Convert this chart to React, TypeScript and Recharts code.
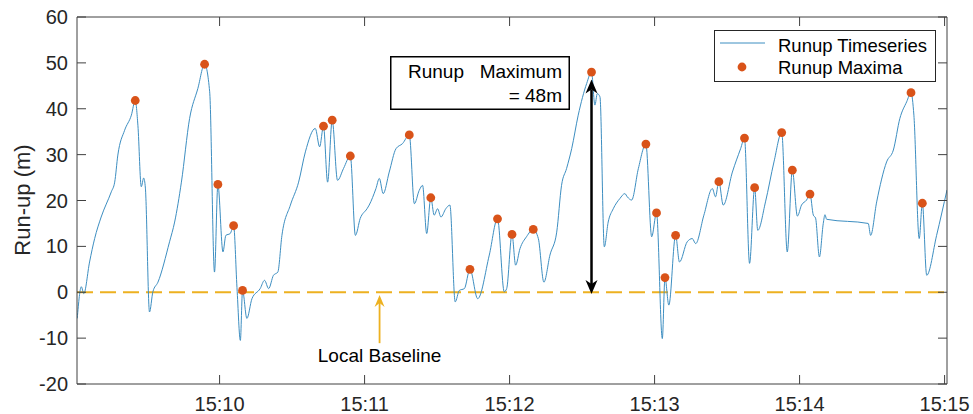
import React from 'react';
import { ComposedChart, Line, Scatter, XAxis, YAxis, ReferenceLine, Legend } from 'recharts';

// time in seconds after 15:09:00
const runupTimes = [
  1.1, 2.8, 3.8, 6.2, 8.3, 11.0, 15.2, 16.6, 17.9, 20.7,
  23.5, 25.1, 26.2, 27.6, 28.6, 29.3, 31.0, 32.4, 34.5, 39.3,
  41.4, 44.2, 47.6, 51.0, 53.8, 55.9, 57.9, 59.3, 61.4, 62.6,
  64.4, 65.8, 67.2, 68.6, 69.5, 71.3, 73.4, 76.8, 78.6, 80.3,
  82.3, 84.1, 85.8, 89.3, 92.7, 95.5, 99.6, 101.4, 103.0, 104.7,
  106.6, 108.8, 111.3, 114.1, 116.2, 118.2, 121.0, 121.9, 124.7, 126.1,
  127.7, 130.2, 133.0, 135.7, 138.5, 140.6, 142.6, 144.0, 145.7, 147.4,
  148.8, 150.2, 151.6, 153.6, 155.3, 157.5, 159.2, 161.3, 163.6, 166.8,
  171.6, 175.0, 177.8, 178.8, 181.0, 182.5, 184.3, 187.0, 189.8, 191.9,
  194.2, 196.7, 199.5, 201.5, 203.6, 205.7, 208.4, 211.9, 213.9, 215.3,
  216.3, 217.4, 219.2, 220.8, 222.9, 225.6, 227.7, 228.7, 230.5, 233.3,
  236.4, 238.8, 240.8, 243.2, 244.3, 245.9, 248.7, 250.3, 253.5, 255.6,
  257.0, 260.4, 263.9, 265.2, 266.6, 268.4, 272.2, 275.6, 277.2, 279.3,
  281.4, 282.7, 285.9, 289.4, 292.6, 294.9, 297.0, 299.1, 300.8, 302.9,
  304.3, 305.7, 306.6, 308.2, 309.8, 310.5, 311.2, 328.4, 329.4, 331.9,
  336.0, 338.8, 341.5, 344.3, 346.1, 347.3, 349.5, 350.8, 352.6, 356.7,
  361.0,
];

const runupValues = [
  -5.7, 1.2, -0.3, 6.6, 11.7, 16.4, 21.9, 24.0, 29.9, 35.3,
  38.6, 41.8, 36.4, 23.0, 24.9, 22.7, -4.3, 0.1, 2.2, 11.0,
  15.3, 24.0, 37.9, 44.4, 49.7, 43.7, 4.4, 23.5, 8.8, 12.4,
  12.8, 14.5, 1.0, -10.5, 0.4, -5.7, -1.4, 0.8, 2.6, 0.8,
  3.7, 4.4, 12.4, 19.0, 24.0, 30.6, 35.7, 31.7, 36.2, 24.0,
  37.5, 24.4, 27.0, 29.7, 12.4, 16.1, 18.2, 19.0, 22.6, 24.8,
  21.5, 26.2, 31.3, 32.4, 34.3, 19.3, 22.2, 23.3, 12.8, 20.6,
  16.8, 18.2, 16.4, 18.2, 19.0, -2.1, 0.4, 0.8, 5.0, -1.4,
  8.1, 16.0, 0.1, 0.8, 12.6, 5.9, 9.5, 12.1, 13.7, 11.7,
  2.2, 8.1, 13.1, 23.3, 27.0, 31.3, 38.6, 45.5, 48.0, 40.8,
  43.3, 42.6, 9.9, 15.3, 18.2, 20.4, 21.5, 20.8, 20.1, 27.0,
  32.3, 12.1, 17.3, -10.1, 3.2, -2.8, 12.4, 6.6, 11.0, 11.7,
  10.6, 16.8, 22.6, 20.8, 24.1, 19.0, 26.2, 31.3, 33.6, 6.3,
  22.8, 13.5, 19.7, 28.4, 34.8, 8.8, 26.6, 16.6, 19.0, 20.1,
  21.4, 16.8, 16.2, 7.7, 15.0, 16.9, 15.9, 15.0, 12.4, 19.7,
  28.4, 31.0, 37.9, 41.5, 43.5, 38.6, 11.7, 19.4, 3.7, 12.4,
  22.3,
];

const maximaTimes = [
  25.1, 53.8, 59.3, 65.8, 69.5, 103.0, 106.6, 114.1, 138.5, 147.4,
  163.6, 175.0, 181.0, 189.8, 213.9, 236.4, 240.8, 244.3, 248.7, 266.6,
  277.2, 281.4, 292.6, 297.0, 304.3, 346.1, 350.8,
];
const maximaValues = [
  41.8, 49.7, 23.5, 14.5, 0.4, 36.2, 37.5, 29.7, 34.3, 20.6,
  5.0, 16.0, 12.6, 13.7, 48.0, 32.3, 17.3, 3.2, 12.4, 24.1,
  33.6, 22.8, 34.8, 26.6, 21.4, 43.5, 19.4,
];

const xTicks = [60, 120, 180, 240, 300, 360];
const xTickLabels = ['15:10', '15:11', '15:12', '15:13', '15:14', '15:15'];
const yTicks = [-20, -10, 0, 10, 20, 30, 40, 50, 60];
const xDomain = [1, 361];
const yDomain = [-20, 60];

const maxArrowTime = 213.9;
const maxArrowRange = [-0.4, 46.4];
const baselineArrowTime = 126.2;
const baselineArrowRange = [-11.1, -0.6];

const runupData = runupTimes.map((t, i) => ({ t, v: runupValues[i] }));
const maximaData = maximaTimes.map((t, i) => ({ t, v: maximaValues[i] }));

const FONT = '"Liberation Sans", Arial, Helvetica, sans-serif';
const LINE_COLOR = '#3D8EC1';
const DOT_COLOR = '#D95319';
const BASE_COLOR = '#EDB120';
const AXIS_COLOR = '#404040';
const TEXT_COLOR = '#262626';

const fmtX = (t: number) => {
  const i = xTicks.indexOf(t);
  return i >= 0 ? xTickLabels[i] : '';
};

const DoubleArrow = (p: any) => {
  const { x1, y1, x2, y2 } = p;
  const x = x1;
  const top = Math.min(y1, y2);
  const bot = Math.max(y1, y2);
  const hw = 6;
  const hl = 14;
  const notch = 10;
  return (
    <g>
      <line x1={x} y1={top + notch} x2={x} y2={bot - notch} stroke="#000" strokeWidth={2.5} />
      <path d={`M${x},${top} L${x - hw},${top + hl} L${x},${top + notch} L${x + hw},${top + hl} Z`} fill="#000" />
      <path d={`M${x},${bot} L${x - hw},${bot - hl} L${x},${bot - notch} L${x + hw},${bot - hl} Z`} fill="#000" />
    </g>
  );
};

const BaselineArrow = (p: any) => {
  const { x1, y1, x2, y2 } = p;
  const x = x1;
  const top = Math.min(y1, y2);
  const bot = Math.max(y1, y2);
  const hw = 5;
  const hl = 12;
  const notch = 8;
  return (
    <g>
      <line x1={x} y1={top + notch} x2={x} y2={bot} stroke={BASE_COLOR} strokeWidth={1.8} />
      <path d={`M${x},${top} L${x - hw},${top + hl} L${x},${top + notch} L${x + hw},${top + hl} Z`} fill={BASE_COLOR} />
      <text x={x} y={bot + 19} textAnchor="middle" fontFamily={FONT} fontSize={19} fill="#000">
        Local Baseline
      </text>
    </g>
  );
};

const LegendBox = () => (
  <svg width={222} height={52} style={{ display: 'block' }}>
    <rect x={0.5} y={0.5} width={221} height={51} fill="#fff" stroke={TEXT_COLOR} strokeWidth={1} />
    <line x1={6} y1={13} x2={51} y2={13} stroke={LINE_COLOR} strokeWidth={1} />
    <circle cx={28} cy={37} r={4.4} fill={DOT_COLOR} />
    <text x={64} y={22} fontFamily={FONT} fontSize={18.5} fill="#000">Runup Timeseries</text>
    <text x={64} y={44} fontFamily={FONT} fontSize={18.5} fill="#000">Runup Maxima</text>
  </svg>
);

export default function App() {
  return (
    <div style={{ position: 'absolute', left: 0, top: 0, width: 973, height: 414, background: '#fff' }}>
      <ComposedChart width={973} height={414} margin={{ top: 17, right: 26, bottom: 0, left: 17 }}>
        <XAxis
          dataKey="t"
          type="number"
          domain={xDomain}
          ticks={xTicks}
          tickFormatter={fmtX}
          allowDataOverflow
          interval={0}
          height={30}
          tickSize={-9}
          tickMargin={22}
          stroke={AXIS_COLOR}
          tick={{ fill: TEXT_COLOR, fontSize: 20, fontFamily: FONT }}
        />
        <XAxis
          xAxisId="top"
          orientation="top"
          mirror
          dataKey="t"
          type="number"
          domain={xDomain}
          ticks={xTicks}
          tickFormatter={() => ''}
          allowDataOverflow
          interval={0}
          tickSize={9}
          stroke={AXIS_COLOR}
        />
        <YAxis
          type="number"
          domain={yDomain}
          ticks={yTicks}
          allowDataOverflow
          interval={0}
          width={60}
          tickSize={-9}
          tickMargin={18}
          stroke={AXIS_COLOR}
          tick={{ fill: TEXT_COLOR, fontSize: 20, fontFamily: FONT }}
          label={{
            content: () => (
              <text
                x={30}
                y={200}
                transform="rotate(-90 30 200)"
                textAnchor="middle"
                fontFamily={FONT}
                fontSize={22}
                fill={TEXT_COLOR}
              >
                Run-up (m)
              </text>
            ),
          }}
        />
        <YAxis
          yAxisId="right"
          orientation="right"
          mirror
          type="number"
          domain={yDomain}
          ticks={yTicks}
          allowDataOverflow
          interval={0}
          tickSize={9}
          tickFormatter={() => ''}
          stroke={AXIS_COLOR}
        />
        <ReferenceLine y={0} stroke={BASE_COLOR} strokeWidth={2} strokeDasharray="16 7" />
        <Line
          data={runupData}
          dataKey="v"
          type="monotone"
          stroke={LINE_COLOR}
          strokeWidth={1}
          dot={false}
          activeDot={false}
          isAnimationActive={false}
        />
        <Scatter
          data={maximaData}
          dataKey="v"
          fill={DOT_COLOR}
          isAnimationActive={false}
          shape={(p: any) => <circle cx={p.cx} cy={p.cy} r={4.4} fill={DOT_COLOR} />}
        />
        <ReferenceLine
          segment={[
            { x: maxArrowTime, y: maxArrowRange[0] },
            { x: maxArrowTime, y: maxArrowRange[1] },
          ]}
          shape={DoubleArrow}
        />
        <ReferenceLine
          segment={[
            { x: baselineArrowTime, y: baselineArrowRange[0] },
            { x: baselineArrowTime, y: baselineArrowRange[1] },
          ]}
          shape={BaselineArrow}
        />
        <Legend
          layout="vertical"
          align="center"
          verticalAlign="middle"
          wrapperStyle={{ left: 714, top: 30, width: 222, height: 52 }}
          content={() => <LegendBox />}
        />
      </ComposedChart>
      <svg
        width={180}
        height={54}
        style={{ position: 'absolute', left: 390, top: 56 }}
      >
        <rect x={0.75} y={0.75} width={178.5} height={52.5} fill="#fff" stroke="#000" strokeWidth={1.5} />
        <text x={18} y={22} fontFamily={FONT} fontSize={19} fill="#000">Runup</text>
        <text x={172} y={22} textAnchor="end" fontFamily={FONT} fontSize={19} fill="#000">Maximum</text>
        <text x={172} y={46} textAnchor="end" fontFamily={FONT} fontSize={19} fill="#000">= 48m</text>
      </svg>
    </div>
  );
}
